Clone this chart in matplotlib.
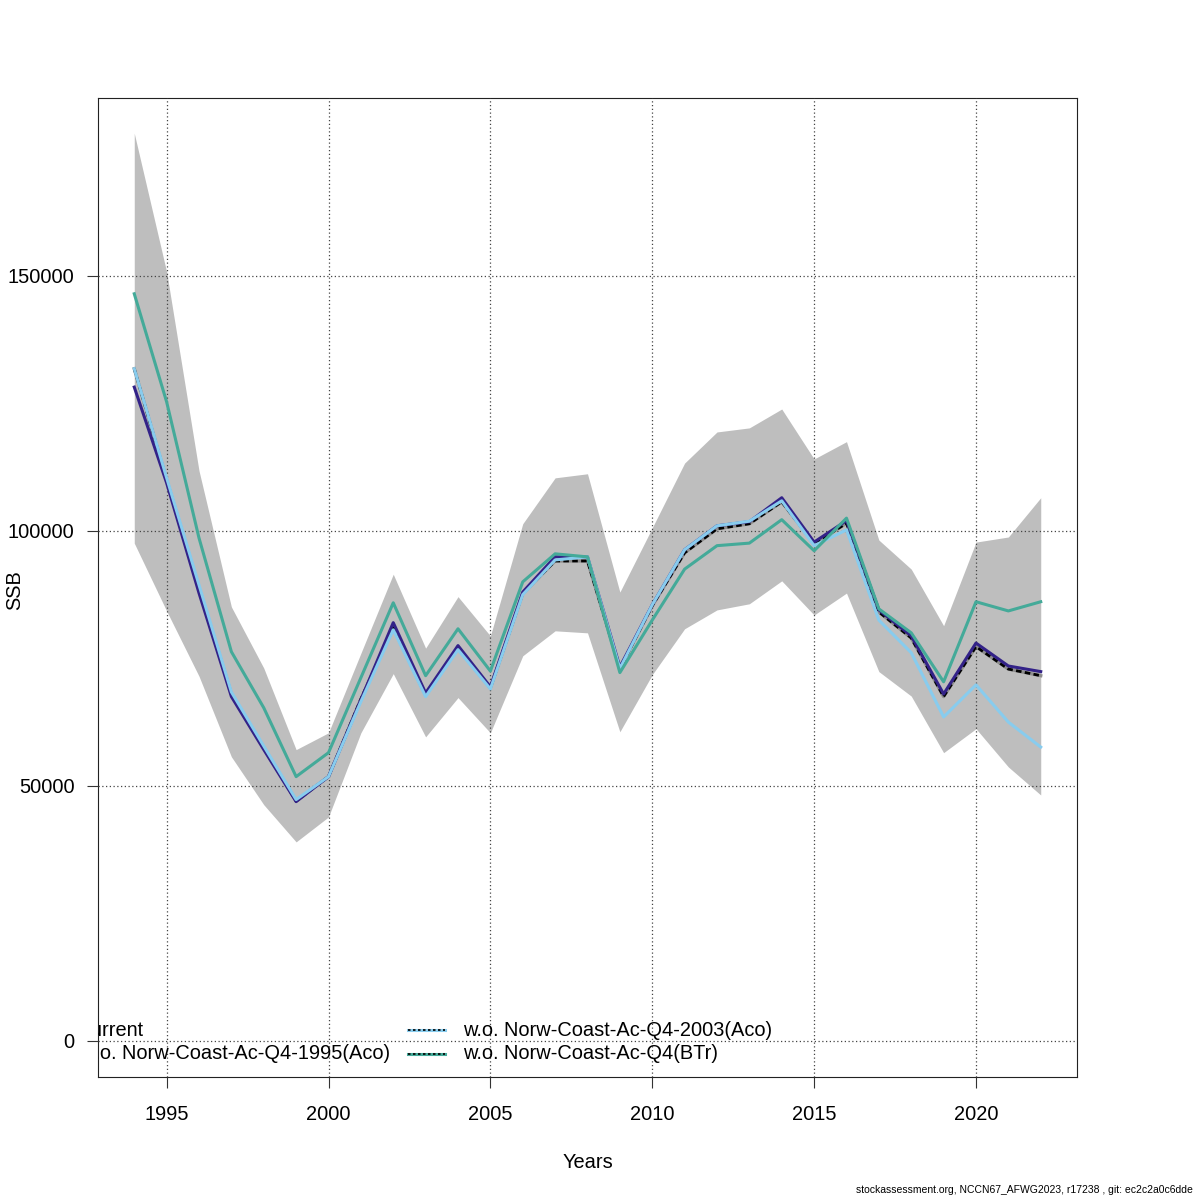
import matplotlib
matplotlib.use("Agg")
import matplotlib.pyplot as plt
import numpy as np

plt.rcParams['font.family'] = ['Liberation Sans', 'DejaVu Sans']

years = list(range(1994, 2023))

ssb_low = [97600, 84300, 71500, 55700, 46300, 39000, 43900, 60400, 72000, 59600,
           67300, 60400, 75500, 80400, 80000, 60600, 71800, 80800, 84500, 85700,
           90200, 83500, 87800, 72400, 67600, 56500, 61200, 53700, 48200]
ssb_high = [178000, 150800, 111800, 85100, 73100, 57100, 60400, 76000, 91500, 77000,
            87100, 79400, 101400, 110400, 111200, 88000, 100600, 113300, 119400, 120200,
            123900, 114100, 117500, 98200, 92500, 81400, 97800, 98800, 106500]

current = [131800, 110000, 88800, 68000, 57500, 47000, 51800, 67000, 81000, 67800,
           77000, 69200, 87700, 94100, 94100, 73000, 85300, 95700, 100400, 101400,
           105700, 97500, 101500, 84100, 79000, 67500, 77300, 72900, 71600]
wo_1995 = [128200, 109400, 87800, 67500, 57100, 46900, 51800, 66900, 82000, 68200,
           77500, 69400, 88000, 94900, 94900, 73300, 85500, 96300, 101000, 101800,
           106500, 97800, 102000, 84500, 79400, 68000, 78000, 73500, 72400]
wo_2003 = [131800, 110400, 89400, 68400, 57800, 47300, 51800, 66500, 80600, 67500,
           76700, 69000, 87500, 94300, 94900, 73000, 85500, 96300, 101000, 101900,
           105900, 97100, 100200, 82500, 76100, 63500, 69800, 62500, 57600]
wo_btr = [146500, 125300, 98600, 76300, 65300, 51800, 56500, 71200, 85900, 71600,
          80800, 72500, 90000, 95500, 94900, 72200, 82500, 92500, 97100, 97600,
          102200, 96100, 102500, 84700, 80000, 70400, 86100, 84300, 86100]

legend_labels = ["current", "w.o. Norw-Coast-Ac-Q4-1995(Aco)",
                 "w.o. Norw-Coast-Ac-Q4-2003(Aco)", "w.o. Norw-Coast-Ac-Q4(BTr)"]
series_colors = ["black", "#332288", "#88CCEE", "#44AA99"]

xticks = [1995, 2000, 2005, 2010, 2015, 2020]
yticks = [0, 50000, 100000, 150000]

fig = plt.figure(figsize=(12, 12), dpi=100)
ax = fig.add_axes([98/1200, 123/1200, 979/1200, 979/1200])

ax.fill_between(years, ssb_low, ssb_high, color="#BEBEBE", lw=0, zorder=1)

lw = 2.2
# current drawn first (underneath), then the alternative runs
ax.plot(years, current, color="#8c8c8c", lw=2.4, zorder=2.6)
ax.plot(years, current, color="black", lw=2.0, ls=(0, (2, 1.2)), zorder=2.7)
ax.plot(years, wo_1995, color=series_colors[1], lw=lw, zorder=3)
ax.plot(years, wo_2003, color=series_colors[2], lw=lw, zorder=4)
ax.plot(years, wo_btr, color=series_colors[3], lw=lw, zorder=5)

ax.set_xlim(1992.88, 2023.12)
ax.set_ylim(-7110, 184900)

ax.set_xticks(xticks)
ax.set_xticklabels([str(v) for v in xticks])
ax.set_yticks(yticks)
ax.set_yticklabels([str(v) for v in yticks])
ax.tick_params(axis='both', labelsize=14.4, length=8, width=0.8, direction='out', color='#333333')
ax.tick_params(axis='x', pad=12)
ax.tick_params(axis='y', pad=9)

ax.grid(True, color='#444444', ls=(0, (1, 2)), lw=0.9, zorder=2.5)
ax.set_axisbelow(False)
for sp in ax.spines.values():
    sp.set_linewidth(0.8)
    sp.set_color('#222222')

fig.text(587.5/1200, 1 - 1162/1200, "Years", ha='center', va='center', fontsize=14.4)
fig.text(15/1200, 1 - 590/1200, "SSB", ha='center', va='center', rotation=90, fontsize=14.4)

# legend, clipped to plot region (as in original)
row_y = [0.048, 0.0235]
col_text_x = [-0.0172, 0.3728]
col_sym_x = [(-0.074, -0.036), (0.3166, 0.3544)]
entries = [(0, 0), (0, 1), (1, 0), (1, 1)]
for i, (c, r) in enumerate(entries):
    t = ax.text(col_text_x[c], row_y[r], legend_labels[i], transform=ax.transAxes,
                ha='left', va='center', fontsize=14.4, clip_on=True, zorder=8)
    t.set_clip_box(ax.bbox)
    x0, x1 = col_sym_x[c]
    if i > 0:
        ax.plot([x0, x1], [row_y[r], row_y[r]], transform=ax.transAxes,
                color=series_colors[i], lw=lw, clip_on=True, zorder=8)
    ax.plot([x0, x1], [row_y[r], row_y[r]], transform=ax.transAxes,
            color='black', lw=1.2, ls=(0, (1.5, 1.5)), clip_on=True, zorder=9)

fig.text(1193/1200, 1 - 1190/1200,
         "stockassessment.org, NCCN67_AFWG2023, r17238 , git: ec2c2a0c6dde",
         ha='right', va='center', fontsize=7.5)

fig.savefig("out.png", dpi=100)
